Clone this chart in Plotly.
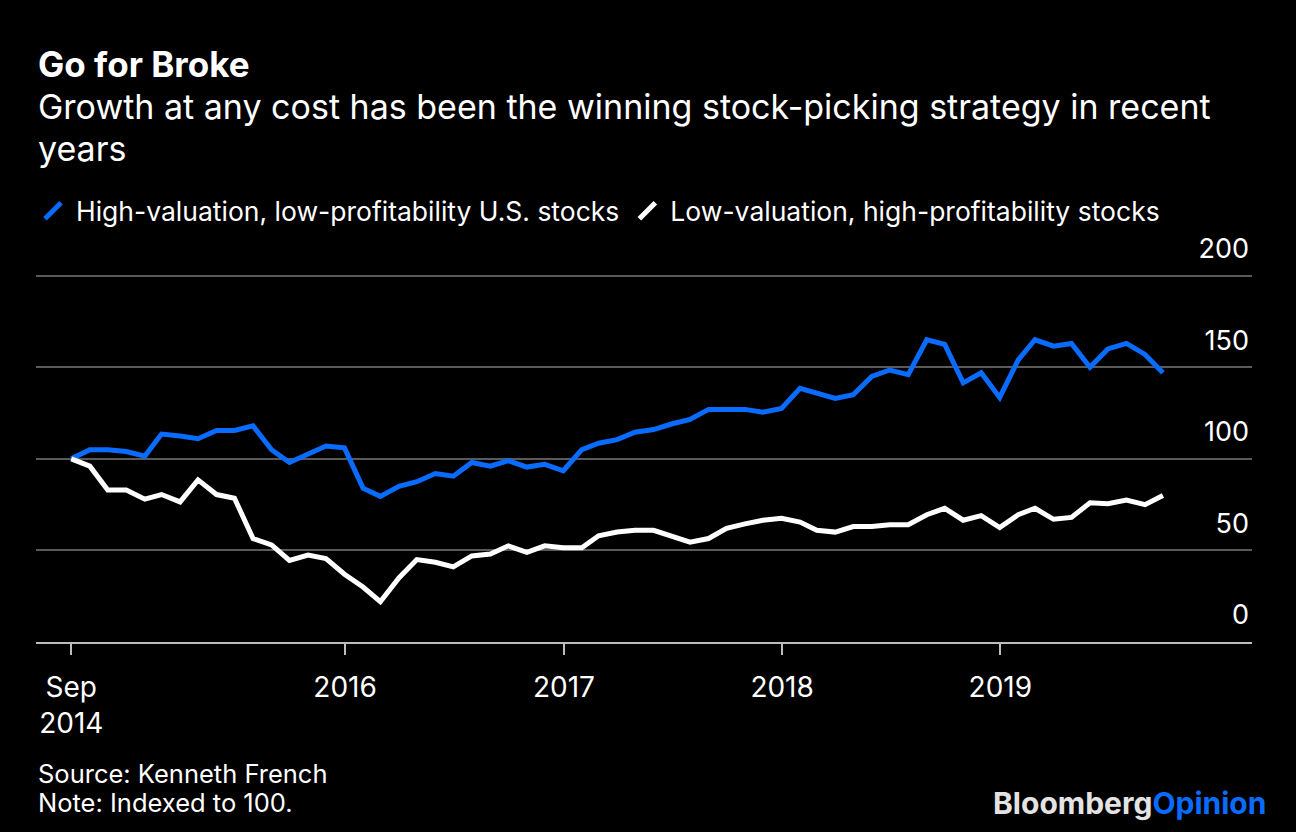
import plotly.graph_objects as go
import pandas as pd

# ---------------- data ----------------
dates = pd.date_range("2014-10-01", periods=61, freq="MS") - pd.Timedelta(days=1)

high_val_low_prof = [100, 105, 105, 104, 101.5, 113.5, 112.5, 111, 115.5, 115.5,
                     118, 105, 98, 102.5, 107, 106, 84, 79.5, 85, 87.5,
                     92, 90.5, 98, 96, 99, 95.5, 97, 93.5, 105, 108.5,
                     110.5, 114.5, 116, 119, 121.5, 127, 127, 127, 125.5, 127.5,
                     138.5, 136, 133, 135, 145, 148.5, 146, 165, 162.5, 141.5,
                     147, 133.5, 154, 165, 161.5, 163, 150, 160, 163, 157, 147]

low_val_high_prof = [100, 96, 83, 83, 78, 80.5, 76.5, 88.5, 80.5, 78.5,
                     56.5, 53, 44.5, 47.5, 45.5, 37, 30, 22, 35, 45,
                     43.5, 41, 47, 48, 52.5, 49, 52.5, 51.5, 51.5, 58,
                     60, 61, 61, 57.5, 54.5, 56.5, 62, 64.5, 66.5, 67.5,
                     65.5, 61, 60, 63, 63, 64, 64, 69.5, 73, 66.5,
                     69, 62.5, 69.5, 73, 67, 68, 76, 75.5, 77.5, 75, 80]

series_names = ["High-valuation, low-profitability U.S. stocks",
                "Low-valuation, high-profitability stocks"]

x_tick_vals = ["2014-09-30", "2016-01-01", "2017-01-01", "2018-01-01", "2019-01-01"]
x_tick_text = ["Sep<br>2014", "2016", "2017", "2018", "2019"]
y_tick_vals = [0, 50, 100, 150, 200]

# ---------------- style ----------------
BLUE = "#0a6cff"
WHITE = "#ffffff"
FONT = "Inter, Liberation Sans, Arial, sans-serif"
W, H = 1296, 832
L, R, T, B = 36, 44, 272, 190
PW, PH = W - L - R, H - T - B


def px(x):
    return (x - L) / PW


def py(y):
    return (H - B - y) / PH


fig = go.Figure()
fig.add_trace(go.Scatter(x=dates, y=high_val_low_prof, mode="lines",
                         line=dict(color=BLUE, width=5), showlegend=False,
                         name=series_names[0]))
fig.add_trace(go.Scatter(x=dates, y=low_val_high_prof, mode="lines",
                         line=dict(color=WHITE, width=5), showlegend=False,
                         name=series_names[1]))
for name, c in zip(series_names, [BLUE, WHITE]):
    fig.add_trace(go.Scatter(x=[None], y=[None], mode="markers", name=name,
                             marker=dict(symbol="line-ne", size=22, color=c,
                                         line=dict(color=c, width=5))))

annotations = [
    dict(text="<b>Go for Broke</b>", x=px(36), y=py(64), font=dict(size=35)),
    dict(text="Growth at any cost has been the winning stock-picking strategy in recent",
         x=px(36), y=py(107), font=dict(size=34)),
    dict(text="years", x=px(36), y=py(148), font=dict(size=34)),
    dict(text="Source: Kenneth French", x=px(36), y=py(773), font=dict(size=25.5)),
    dict(text="Note: Indexed to 100.", x=px(36), y=py(802), font=dict(size=25.5)),
]
for a in annotations:
    a.update(xref="paper", yref="paper", xanchor="left", yanchor="middle",
             showarrow=False)
    a["font"].update(color=WHITE, family=FONT)

annotations.append(dict(
    text="<b>Bloomberg</b><b><span style='color:%s'>Opinion</span></b>" % BLUE,
    x=px(1268), y=py(803), xref="paper", yref="paper", xanchor="right",
    yanchor="middle", showarrow=False,
    font=dict(size=30, color="#e3e3e3", family=FONT)))

fig.update_layout(
    width=W, height=H,
    margin=dict(l=L, r=R, t=T, b=B, pad=0),
    paper_bgcolor="black", plot_bgcolor="black",
    font=dict(family=FONT, color=WHITE),
    showlegend=True,
    legend=dict(orientation="h", x=px(30), y=py(211), xanchor="left",
                yanchor="middle", font=dict(size=26.5, color=WHITE, family=FONT),
                bgcolor="rgba(0,0,0,0)", itemwidth=36),
    annotations=annotations,
    xaxis=dict(type="date", range=["2014-08-02", "2020-02-26"],
               tickvals=x_tick_vals, ticktext=x_tick_text,
               ticks="outside", ticklen=11, tickwidth=2, tickcolor="#bdbdbd",
               showline=True, linecolor="#bdbdbd", linewidth=2,
               showgrid=False, zeroline=False,
               tickfont=dict(size=28, color=WHITE, family=FONT),
               ticklabelstandoff=8),
    yaxis=dict(range=[0, 202], tickvals=y_tick_vals, side="right",
               ticklabelposition="inside", ticklabelshift=-27,
               ticklabeloverflow="allow",
               showgrid=True, gridcolor="#5a5a5a", gridwidth=2,
               zeroline=False, showline=False, ticks="",
               tickfont=dict(size=27, color=WHITE, family=FONT)),
)

fig.write_html("out.html")
